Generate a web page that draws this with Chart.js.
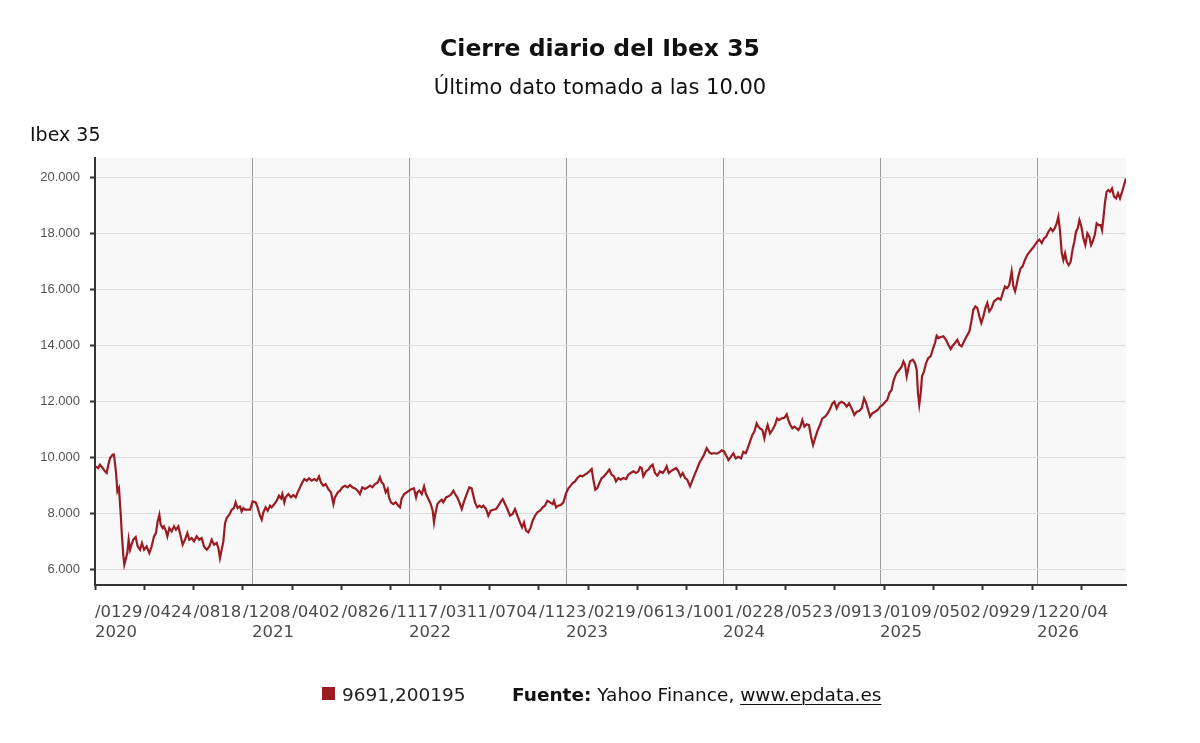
<!DOCTYPE html>
<html>
<head>
<meta charset="utf-8">
<title>Cierre diario del Ibex 35</title>
<script src="https://cdn.jsdelivr.net/npm/chart.js@4.4.1/dist/chart.umd.min.js"></script>
<style>
    body { margin: 0; background: #ffffff; font-family: "DejaVu Sans", sans-serif; color: #111; }
    #page { position: relative; width: 1200px; height: 743px; overflow: hidden; }
    #chart { position: absolute; left: 0; top: 0; }
    .txt { position: absolute; line-height: 1; white-space: nowrap; }
    #title { left: 0; width: 1200px; top: 37px; text-align: center; font-size: 23.5px; font-weight: bold; }
    #subtitle { left: 0; width: 1200px; top: 77px; text-align: center; font-size: 21px; }
    #axis-name { left: 30px; top: 125px; font-size: 19px; }
    #swatch { position: absolute; left: 322px; top: 687px; width: 13px; height: 13px; }
    #series-name { left: 342px; top: 686px; font-size: 18.5px; color: #222; }
    #source { left: 512px; top: 686px; font-size: 18.5px; color: #111; }
    #source u { text-decoration-thickness: 1px; text-underline-offset: 3px; }
</style>
</head>
<body>
<div id="page">
    <canvas id="chart" width="1200" height="743"></canvas>
    <div class="txt" id="title">Cierre diario del Ibex 35</div>
    <div class="txt" id="subtitle">Último dato tomado a las 10.00</div>
    <div class="txt" id="axis-name">Ibex 35</div>
    <div id="swatch"></div>
    <div class="txt" id="series-name"></div>
    <div class="txt" id="source"><b>Fuente:</b> Yahoo Finance, <u>www.epdata.es</u></div>
</div>
<script>
// x values are months counted from 1 January 2020

const seriesLabel = '9691,200195';
const lineColor = '#9b1b22';

const yearLabels = ['2020', '2021', '2022', '2023', '2024', '2025', '2026'];
const yearStarts = [0, 12, 24, 36, 48, 60, 72];

// the odd date labels under the axis, one per tick
const dateLabels = ['/0129', '/0424', '/0818', '/1208', '/0402', '/0826', '/1117',
                    '/0311', '/0704', '/1123', '/0219', '/0613', '/1001', '/0228',
                    '/0523', '/0913', '/0109', '/0502', '/0929', '/1220', '/04'];
const dateTickStep = 3.77;

const yTicks = [6000, 8000, 10000, 12000, 14000, 16000, 18000, 20000];
const xMax = 78.8;

const months2020 = [0, 0.25, 0.38, 0.59, 0.76, 0.89, 1.02, 1.15, 1.35, 1.45, 1.61, 1.71, 1.83, 1.96,
    2.06, 2.17, 2.24, 2.37, 2.47, 2.57, 2.68, 2.83, 2.93, 3.11, 3.26, 3.44, 3.59, 3.75, 3.95,
    4.15, 4.33, 4.51, 4.66, 4.79, 4.92, 5.02, 5.17, 5.27, 5.43, 5.53, 5.68, 5.86, 6.04, 6.19,
    6.37, 6.55, 6.70, 6.88, 7.06, 7.21, 7.39, 7.57, 7.77, 7.97, 8.15, 8.33, 8.54, 8.74, 8.92,
    9.10, 9.30, 9.43, 9.55, 9.68, 9.81, 9.94, 10.06, 10.27, 10.45, 10.62, 10.75, 10.90, 11.08,
    11.21, 11.34, 11.46, 11.64, 11.85];
const close2020 = [9667, 9607, 9726, 9607, 9488, 9429, 9726, 9964, 10083, 10083, 9429, 8774, 8893, 8000,
    7167, 6452, 6155, 6393, 6571, 7048, 6690, 6929, 7048, 7143, 6810, 6690, 6929, 6690, 6810,
    6571, 6810, 7167, 7286, 7702, 7940, 7583, 7464, 7524, 7345, 7167, 7464, 7345, 7524, 7405,
    7524, 7167, 6869, 7048, 7286, 7048, 7107, 6988, 7167, 7048, 7107, 6810, 6690, 6810, 7048,
    6869, 6929, 6750, 6393, 6690, 6988, 7640, 7821, 7940, 8119, 8179, 8381, 8179, 8238,
    8060, 8179, 8119, 8119, 8119];

const months2021 = [12.05, 12.28, 12.43, 12.61, 12.74, 12.87, 13.04, 13.20, 13.38, 13.50, 13.71, 13.89,
    14.06, 14.22, 14.32, 14.47, 14.57, 14.78, 14.98, 15.16, 15.34, 15.49, 15.67, 15.85, 16.00,
    16.18, 16.36, 16.56, 16.76, 16.94, 17.12, 17.27, 17.45, 17.63, 17.83, 18.04, 18.22, 18.34,
    18.55, 18.73, 18.90, 19.11, 19.31, 19.49, 19.67, 19.87, 20.08, 20.25, 20.43, 20.64, 20.84,
    21.02, 21.20, 21.40, 21.61, 21.78, 21.91, 22.04, 22.22, 22.37, 22.47, 22.62, 22.80, 22.98,
    23.18, 23.31, 23.44, 23.64, 23.82];
const close2021 = [8417, 8381, 8202, 7905, 7762, 8024, 8202, 8083, 8262, 8202, 8321, 8440,
    8619, 8524, 8679, 8381, 8560, 8679, 8560, 8643, 8560, 8738, 8917, 9095, 9214,
    9155, 9238, 9155, 9214, 9155, 9310, 9095, 8976, 9036, 8857, 8738, 8321, 8560,
    8738, 8798, 8917, 8976, 8917, 9000, 8917, 8881, 8798, 8679, 8917, 8857, 8917,
    8976, 8917, 9036, 9095, 9274, 9095, 9036, 8738, 8857, 8560, 8381, 8321, 8381,
    8262, 8202, 8524, 8679, 8738];

const months2022 = [24.00, 24.20, 24.38, 24.54, 24.64, 24.79, 24.97, 25.15, 25.30, 25.48, 25.66, 25.81,
    25.91, 26.01, 26.17, 26.32, 26.50, 26.62, 26.83, 27.01, 27.18, 27.39, 27.52, 27.69, 27.85,
    28.03, 28.20, 28.41, 28.61, 28.79, 28.92, 29.04, 29.22, 29.38, 29.55, 29.68, 29.89, 30.06,
    30.24, 30.45, 30.65, 30.83, 31.01, 31.16, 31.34, 31.52, 31.72, 31.92, 32.10, 32.28, 32.48,
    32.64, 32.79, 32.94, 33.12, 33.30, 33.45, 33.63, 33.81, 34.01, 34.22, 34.39, 34.57, 34.78,
    34.98, 35.08, 35.24, 35.41, 35.59, 35.80];
const close2022 = [8798, 8857, 8881, 8560, 8738, 8798, 8679, 8952, 8679, 8500, 8321, 8083,
    7667, 7964, 8321, 8405, 8476, 8381, 8560, 8595, 8643, 8798, 8679, 8560, 8381,
    8143, 8405, 8679, 8917, 8881, 8619, 8381, 8202, 8262, 8202, 8262, 8143, 7905,
    8083, 8119, 8143, 8262, 8405, 8500, 8321, 8143, 7905, 7964, 8143, 7905, 7667,
    7488, 7667, 7369, 7310, 7488, 7726, 7905, 8024, 8083, 8202, 8262, 8440, 8381,
    8321, 8440, 8202, 8262, 8286, 8381];

const months2023 = [36.00, 36.18, 36.31, 36.51, 36.69, 36.87, 37.07, 37.27, 37.45, 37.63, 37.78, 37.96,
    38.09, 38.24, 38.39, 38.55, 38.73, 38.90, 39.11, 39.31, 39.49, 39.67, 39.82, 40.00, 40.18,
    40.38, 40.59, 40.76, 40.94, 41.15, 41.35, 41.53, 41.66, 41.78, 41.91, 42.11, 42.29, 42.47,
    42.62, 42.80, 42.98, 43.18, 43.39, 43.57, 43.69, 43.85, 44.00, 44.20, 44.41, 44.59, 44.76,
    44.92, 45.10, 45.27, 45.48, 45.63, 45.78, 45.99, 46.19, 46.37, 46.55, 46.75, 46.96, 47.13,
    47.31, 47.52, 47.72, 47.90];
const close2023 = [8700, 8880, 8952, 9071, 9131, 9250, 9333, 9310, 9369, 9429, 9488, 9571,
    9190, 8833, 8893, 9071, 9250, 9310, 9429, 9548, 9369, 9310, 9131, 9250, 9190,
    9250, 9214, 9369, 9429, 9488, 9429, 9488, 9643, 9607, 9310, 9488, 9548, 9667,
    9726, 9429, 9333, 9488, 9429, 9548, 9667, 9429, 9488, 9548, 9607, 9488, 9310,
    9429, 9250, 9190, 8952, 9131, 9310, 9548, 9786, 9929, 10083, 10321, 10167, 10119,
    10143, 10119, 10167, 10238];

const months2024 = [48.08, 48.28, 48.41, 48.61, 48.79, 48.97, 49.17, 49.38, 49.55, 49.73, 49.88, 50.06,
    50.24, 50.39, 50.57, 50.70, 50.83, 51.01, 51.16, 51.26, 51.41, 51.59, 51.77, 51.97, 52.13,
    52.28, 52.48, 52.69, 52.87, 52.99, 53.15, 53.30, 53.45, 53.63, 53.76, 53.91, 54.06, 54.22,
    54.39, 54.57, 54.73, 54.88, 55.03, 55.24, 55.41, 55.59, 55.80, 56.00, 56.18, 56.36, 56.51,
    56.69, 56.87, 57.07, 57.27, 57.45, 57.63, 57.83, 58.04, 58.22, 58.39, 58.60, 58.78, 58.90,
    59.06, 59.24, 59.41, 59.62, 59.82];
const close2024 = [10202, 10024, 9893, 10012, 10131, 9952, 10012, 9952, 10190, 10131, 10310, 10548,
    10786, 10905, 11202, 11083, 11024, 10964, 10667, 10905, 11143, 10845, 10964, 11143, 11381,
    11321, 11381, 11405, 11524, 11321, 11143, 11024, 11083, 11024, 10964, 11083, 11321, 11083,
    11167, 11143, 10726, 10429, 10667, 10964, 11143, 11381, 11440, 11560, 11714, 11917, 11976,
    11738, 11917, 11976, 11917, 11798, 11917, 11738, 11500, 11619, 11643, 11738, 12095, 11976,
    11738, 11440, 11560, 11619, 11679];

const months2025 = [60.00, 60.18, 60.56, 60.71, 60.89, 61.02, 61.15, 61.27, 61.48, 61.66, 61.79, 61.91,
    62.04, 62.17, 62.29, 62.50, 62.67, 62.80, 62.90, 63.00, 63.11, 63.21, 63.36, 63.52, 63.69,
    63.87, 64.02, 64.20, 64.33, 64.48, 64.64, 64.84, 65.04, 65.22, 65.40, 65.55, 65.73, 65.91,
    66.06, 66.24, 66.42, 66.62, 66.83, 66.98, 67.13, 67.29, 67.44, 67.59, 67.74, 67.90, 68.05,
    68.20, 68.35, 68.53, 68.71, 68.87, 69.04, 69.22, 69.38, 69.55, 69.73, 69.88, 70.06, 70.19,
    70.32, 70.44, 70.57, 70.75, 70.90, 71.08, 71.26, 71.46, 71.67, 71.85];
const close2025 = [11798, 11857, 12048, 12286, 12405, 12702, 12881, 13000, 13119, 13238, 13417, 13298,
    12881, 13179, 13417, 13476, 13357, 13119, 12286, 11869, 12286, 12881, 13060, 13357, 13536,
    13595, 13833, 14071, 14333, 14250, 14286, 14310, 14190, 14012, 13857, 13976, 14071, 14190,
    14012, 13952, 14131, 14310, 14488, 14845, 15262, 15381, 15321, 15024, 14786, 15024, 15321,
    15500, 15202, 15321, 15560, 15619, 15679, 15619, 15857, 16095, 16036, 16155, 16631, 16095,
    15917, 16155, 16452, 16750, 16810, 17048, 17226, 17345, 17464, 17583];

const months2026 = [72.02, 72.18, 72.36, 72.53, 72.69, 72.87, 73.04, 73.20, 73.35, 73.50, 73.63, 73.76,
    73.89, 74.01, 74.14, 74.27, 74.42, 74.57, 74.73, 74.85, 74.98, 75.11, 75.24, 75.39, 75.54,
    75.69, 75.85, 76.00, 76.13, 76.25, 76.41, 76.56, 76.71, 76.86, 76.97, 77.07, 77.20, 77.32,
    77.45, 77.58, 77.73, 77.89, 78.04, 78.19, 78.34, 78.50, 78.65, 78.80];
const close2026 = [17702, 17762, 17643, 17810, 17869, 18048, 18167, 18071, 18167, 18345, 18583, 18048,
    17274, 17036, 17274, 16976, 16857, 16976, 17452, 17690, 18048, 18167, 18464, 18226, 17810,
    17571, 17988, 17869, 17571, 17690, 17929, 18345, 18286, 18286, 18107, 18524, 19119, 19476,
    19536, 19476, 19595, 19298, 19238, 19417, 19238, 19476, 19714, 19952];

window.onload = initialize;

function initialize() {
    document.getElementById('swatch').style.background = lineColor;
    document.getElementById('series-name').textContent = seriesLabel;
    drawChart();
}

// joins the yearly arrays into {x, y} points
function buildPoints() {
    let years = [[months2020, close2020], [months2021, close2021], [months2022, close2022],
                 [months2023, close2023], [months2024, close2024], [months2025, close2025],
                 [months2026, close2026]];
    let points = [];
    for (let k = 0; k < years.length; k++) {
        let months = years[k][0];
        let closes = years[k][1];
        for (let i = 0; i < months.length; i++) {
            points.push({x: months[i], y: closes[i]});
        }
    }
    return points;
}

// 20000 -> "20.000"
function formatThousands(value) {
    return String(value).replace(/\B(?=(\d{3})+(?!\d))/g, '.');
}

const plotBackground = {
    id: 'plotBackground',
    beforeDraw(chart) {
        const area = chart.chartArea;
        const ctx = chart.ctx;
        ctx.save();
        ctx.fillStyle = '#f8f8f8';
        ctx.fillRect(area.left, area.top, area.right - area.left, area.bottom - area.top);
        ctx.restore();
    }
};

function drawChart() {
    const axisFont = {family: '"DejaVu Sans", sans-serif', size: 16.5};

    const config = {
        type: 'line',
        data: {
            datasets: [{
                label: seriesLabel,
                data: buildPoints(),
                borderColor: lineColor,
                borderWidth: 2.2,
                pointRadius: 0,
                fill: false,
                tension: 0
            }]
        },
        plugins: [plotBackground],
        options: {
            responsive: false,
            animation: false,
            layout: {padding: {top: 158, right: 74, bottom: 93, left: 0}},
            plugins: {
                legend: {display: false},
                title: {display: false},
                tooltip: {enabled: false}
            },
            scales: {
                x: {
                    type: 'linear',
                    position: 'bottom',
                    weight: 0,
                    min: 0,
                    max: xMax,
                    afterFit: function(scale) { scale.height = 38; },
                    afterBuildTicks: function(scale) {
                        scale.ticks = dateLabels.map((label, k) => ({value: k * dateTickStep}));
                    },
                    border: {color: '#333333', width: 2},
                    grid: {
                        drawOnChartArea: false,
                        drawTicks: true,
                        tickLength: 5,
                        tickWidth: 2,
                        tickColor: '#333333'
                    },
                    ticks: {
                        autoSkip: false,
                        maxRotation: 0,
                        minRotation: 0,
                        align: 'start',
                        padding: 13,
                        color: '#4a4a4a',
                        font: axisFont,
                        callback: (value, index) => dateLabels[index]
                    }
                },
                years: {
                    type: 'linear',
                    axis: 'x',
                    position: 'bottom',
                    weight: 1,
                    min: 0,
                    max: xMax,
                    afterFit: function(scale) { scale.height = 27; },
                    afterBuildTicks: function(scale) {
                        scale.ticks = yearStarts.map(v => ({value: v}));
                    },
                    border: {display: false},
                    grid: {
                        drawOnChartArea: true,
                        drawTicks: false,
                        lineWidth: 1,
                        color: (ctx) => ctx.index === 0 ? 'rgba(0,0,0,0)' : '#9c9c9c'
                    },
                    ticks: {
                        autoSkip: false,
                        maxRotation: 0,
                        minRotation: 0,
                        align: 'start',
                        padding: 0,
                        color: '#4a4a4a',
                        font: axisFont,
                        callback: (value, index) => yearLabels[index]
                    }
                },
                y: {
                    type: 'linear',
                    min: 5430,
                    max: 20680,
                    afterFit: function(scale) { scale.width = 95; },
                    afterBuildTicks: function(scale) {
                        scale.ticks = yTicks.map(v => ({value: v}));
                    },
                    border: {color: '#333333', width: 2},
                    grid: {
                        color: '#dcdcdc',
                        lineWidth: 1,
                        tickLength: 5,
                        tickWidth: 2,
                        tickColor: '#333333'
                    },
                    ticks: {
                        padding: 10,
                        color: '#555555',
                        font: {family: '"Liberation Sans", Arial, sans-serif', size: 13},
                        callback: (value) => formatThousands(value)
                    }
                }
            }
        }
    };

    new Chart(document.getElementById('chart'), config);
}
</script>
</body>
</html>
